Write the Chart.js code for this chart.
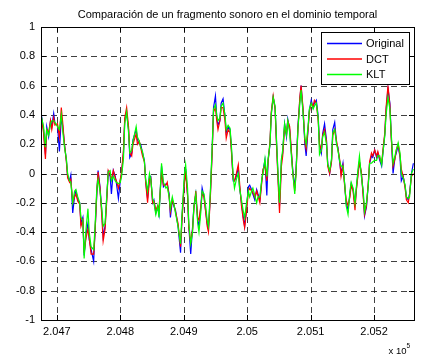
<!DOCTYPE html>
<html>
<head>
<meta charset="utf-8">
<script src="https://cdn.jsdelivr.net/npm/chart.js@4.4.0/dist/chart.umd.min.js"></script>
<style>
  html, body { margin: 0; padding: 0; background: #fff; }
  #caja { width: 422px; height: 354px; }
</style>
</head>
<body>
<div id="caja"><canvas id="grafico" width="422" height="354"></canvas></div>
<script>
// Muestras (indice de muestra, eje x)
const muestras = [
  204675,204679,204682,204684,204687,204690,204692,204695,204697,204701,
  204704,204707,204709,204712,204715,204717,204720,204722,204725,204728,
  204730,204733,204736,204738,204741,204743,204746,204749,204751,204754,
  204758,204760,204763,204765,204768,204771,204773,204776,204779,204781,
  204784,204786,204789,204792,204794,204797,204800,204802,204805,204807,
  204810,204813,204815,204818,204820,204825,204827,204830,204832,204835,
  204838,204840,204843,204846,204848,204851,204853,204856,204859,204861,
  204865,204868,204872,204874,204877,204879,204882,204885,204887,204891,
  204895,204897,204901,204903,204906,204908,204911,204914,204916,204919,
  204922,204924,204927,204929,204932,204935,204937,204939,204942,204945,
  204947,204950,204952,204954,204957,204959,204962,204965,204967,204970,
  204973,204975,204978,204980,204983,204986,204988,204991,204994,204996,
  204999,205002,205004,205007,205009,205012,205015,205017,205020,205023,
  205025,205028,205031,205033,205036,205038,205041,205044,205046,205049,
  205051,205054,205056,205059,205062,205064,205067,205069,205072,205075,
  205077,205080,205083,205085,205088,205091,205093,205096,205098,205101,
  205104,205106,205109,205112,205114,205117,205119,205122,205125,205127,
  205130,205133,205135,205138,205141,205143,205146,205148,205151,205154,
  205156,205159,205162,205164,205167,205170,205172,205175,205177,205180,
  205183,205185,205188,205191,205193,205196,205198,205201,205204,205206,
  205209,205212,205214,205217,205219,205222,205225,205227,205230,205233,
  205235,205238,205241,205243,205246,205249,205251,205254,205256,205259,205262
];

const original = [
  0.42,0.30,0.13,0.32,0.25,0.36,0.32,0.41,0.34,0.33,
  0.15,0.38,0.33,0.20,0.09,-0.02,-0.05,-0.01,-0.27,-0.15,
  -0.12,-0.18,-0.20,-0.34,-0.30,-0.56,-0.41,-0.34,-0.45,-0.52,
  -0.60,-0.41,-0.14,0.02,-0.09,-0.27,-0.43,-0.36,-0.14,0.01,
  -0.02,-0.14,0.02,-0.02,-0.07,-0.17,-0.05,0.00,0.14,0.36,
  0.41,0.30,0.11,0.14,0.23,0.30,0.23,0.20,0.20,0.14,
  0.09,-0.05,-0.17,-0.02,-0.02,-0.20,-0.18,-0.27,-0.23,-0.28,
  0.05,-0.09,-0.07,-0.07,-0.14,-0.30,-0.18,-0.23,-0.25,-0.36,
  -0.54,-0.32,-0.05,0.03,-0.14,-0.36,-0.55,-0.36,-0.23,-0.14,
  -0.32,-0.36,-0.23,-0.10,-0.16,-0.27,-0.34,-0.38,-0.14,0.18,
  0.45,0.53,0.39,0.33,0.36,0.48,0.51,0.39,0.28,0.32,
  0.30,0.18,-0.05,-0.05,-0.02,0.04,-0.09,-0.20,-0.30,-0.36,
  -0.23,-0.09,-0.08,-0.11,-0.14,-0.18,-0.11,-0.14,-0.18,-0.05,
  0.02,0.09,-0.15,0.09,0.20,0.41,0.52,0.45,0.24,-0.05,
  -0.22,0.09,0.14,0.34,0.25,0.37,0.30,0.18,0.02,-0.10,
  0.02,0.32,0.50,0.60,0.43,0.20,0.12,0.30,0.43,0.50,
  0.45,0.48,0.50,0.39,0.20,0.14,0.27,0.34,0.23,0.07,
  0.00,0.09,0.30,0.35,0.20,0.18,0.07,0.00,0.07,-0.09,
  -0.20,-0.25,-0.14,-0.07,-0.11,-0.22,-0.11,0.02,0.08,0.00,
  -0.14,-0.29,-0.23,-0.07,0.07,0.12,0.11,0.16,0.11,0.14,
  0.09,0.05,0.14,0.27,0.43,0.58,0.48,0.27,0.00,0.11,
  0.14,0.19,0.11,-0.05,-0.02,-0.09,-0.16,-0.18,-0.14,0.00,0.07
];

const dct = [
  0.40,0.28,0.10,0.30,0.28,0.36,0.30,0.38,0.33,0.34,
  0.25,0.45,0.36,0.20,0.08,-0.03,-0.06,-0.04,-0.20,-0.16,
  -0.14,-0.19,-0.21,-0.36,-0.32,-0.54,-0.44,-0.38,-0.44,-0.55,
  -0.55,-0.42,-0.12,0.01,-0.10,-0.30,-0.46,-0.38,-0.16,0.02,
  -0.01,-0.04,0.02,-0.03,-0.05,-0.10,-0.04,0.01,0.16,0.38,
  0.45,0.32,0.14,0.12,0.20,0.27,0.20,0.22,0.18,0.12,
  0.08,-0.06,-0.20,-0.04,-0.03,-0.20,-0.19,-0.25,-0.22,-0.24,
  0.00,-0.08,-0.08,-0.06,-0.16,-0.26,-0.18,-0.22,-0.26,-0.34,
  -0.50,-0.34,-0.06,0.00,-0.15,-0.37,-0.47,-0.38,-0.24,-0.12,
  -0.30,-0.32,-0.22,-0.14,-0.16,-0.28,-0.36,-0.40,-0.16,0.16,
  0.42,0.45,0.36,0.30,0.36,0.45,0.45,0.36,0.24,0.30,
  0.28,0.16,-0.04,-0.05,0.00,0.06,-0.06,-0.22,-0.32,-0.37,
  -0.26,-0.12,-0.10,-0.12,-0.13,-0.16,-0.12,-0.15,-0.20,-0.06,
  0.03,0.05,-0.05,0.08,0.22,0.42,0.53,0.44,0.22,-0.08,
  -0.27,0.05,0.12,0.32,0.27,0.36,0.32,0.20,0.00,-0.12,
  0.00,0.30,0.52,0.60,0.45,0.22,0.17,0.30,0.42,0.48,
  0.46,0.50,0.48,0.36,0.20,0.16,0.26,0.30,0.22,0.05,
  0.00,0.08,0.26,0.30,0.22,0.17,0.09,-0.02,0.05,-0.10,
  -0.18,-0.22,-0.16,-0.08,-0.12,-0.25,-0.12,0.00,0.08,0.01,
  -0.16,-0.28,-0.22,-0.06,0.08,0.14,0.12,0.16,0.12,0.15,
  0.10,0.07,0.16,0.28,0.45,0.60,0.46,0.25,0.05,0.10,
  0.16,0.20,0.12,0.03,-0.02,-0.10,-0.18,-0.20,-0.14,-0.02,0.00
];

const klt = [
  0.40,0.32,0.18,0.30,0.26,0.34,0.36,0.36,0.35,0.32,
  0.30,0.40,0.30,0.18,0.10,0.00,-0.05,-0.06,-0.20,-0.12,
  -0.11,-0.16,-0.20,-0.30,-0.32,-0.58,-0.38,-0.24,-0.40,-0.50,
  -0.52,-0.38,-0.10,-0.04,-0.12,-0.25,-0.36,-0.34,-0.13,0.01,
  0.02,-0.05,-0.02,-0.05,-0.06,-0.07,-0.06,-0.02,0.10,0.34,
  0.42,0.28,0.14,0.16,0.22,0.32,0.25,0.22,0.18,0.15,
  0.08,-0.04,-0.12,0.00,-0.04,-0.17,-0.20,-0.28,-0.22,-0.30,
  0.07,-0.06,-0.10,-0.09,-0.16,-0.24,-0.16,-0.22,-0.27,-0.36,
  -0.48,-0.30,-0.01,0.06,-0.10,-0.34,-0.48,-0.40,-0.22,-0.14,
  -0.34,-0.40,-0.26,-0.12,-0.14,-0.24,-0.32,-0.36,-0.12,0.20,
  0.44,0.47,0.40,0.36,0.38,0.46,0.48,0.40,0.30,0.33,
  0.31,0.20,-0.02,-0.10,-0.04,0.00,-0.10,-0.18,-0.26,-0.30,
  -0.20,-0.12,-0.16,-0.12,-0.10,-0.15,-0.20,-0.16,-0.16,-0.04,
  0.00,0.10,-0.02,0.10,0.20,0.40,0.52,0.46,0.26,-0.04,
  -0.20,0.10,0.16,0.34,0.26,0.36,0.28,0.16,0.00,-0.14,
  0.00,0.30,0.48,0.57,0.42,0.24,0.20,0.32,0.44,0.48,
  0.44,0.46,0.48,0.38,0.13,0.16,0.25,0.28,0.20,0.06,
  0.02,0.10,0.28,0.30,0.20,0.16,0.08,0.05,0.05,-0.08,
  -0.22,-0.28,-0.12,-0.06,-0.10,-0.20,-0.10,0.04,0.12,-0.02,
  -0.12,-0.26,-0.20,-0.08,0.07,0.07,0.08,0.09,0.09,0.12,
  0.12,0.06,0.14,0.26,0.40,0.52,0.44,0.28,0.07,0.12,
  0.16,0.21,0.14,0.00,-0.03,-0.08,-0.16,-0.17,-0.16,0.00,0.03
];

const titulo = 'Comparación de un fragmento sonoro en el dominio temporal';
const fuente = '"Liberation Sans", Arial, Helvetica, sans-serif';

function serie(valores) {
  return valores.map((v, i) => ({ x: muestras[i], y: v }));
}

// ejes estilo matlab: rejilla discontinua, marco, marcas hacia dentro, leyenda, titulo
const estiloMatlab = {
  id: 'estiloMatlab',
  beforeDatasetsDraw(chart) {
    const { ctx, chartArea: a, scales: { x, y } } = chart;
    ctx.save();
    ctx.strokeStyle = 'rgba(0,0,0,0.75)';
    ctx.lineWidth = 1;
    ctx.setLineDash([6, 4]);
    ctx.beginPath();
    x.ticks.forEach(t => {
      const px = Math.round(x.getPixelForValue(t.value)) + 0.5;
      ctx.moveTo(px, a.top); ctx.lineTo(px, a.bottom);
    });
    y.ticks.forEach(t => {
      if (t.value <= -0.99 || t.value >= 0.99) return;
      const py = Math.round(y.getPixelForValue(t.value)) + 0.5;
      ctx.moveTo(a.left, py); ctx.lineTo(a.right, py);
    });
    ctx.stroke();
    ctx.restore();
  },
  afterDatasetsDraw(chart) {
    const { ctx, chartArea: a, scales: { x, y } } = chart;
    const largo = 5;
    ctx.save();
    ctx.strokeStyle = '#000';
    ctx.lineWidth = 1;
    ctx.strokeRect(a.left + 0.5, a.top + 0.5, a.width, a.height);
    ctx.beginPath();
    x.ticks.forEach(t => {
      const px = Math.round(x.getPixelForValue(t.value)) + 0.5;
      ctx.moveTo(px, a.bottom); ctx.lineTo(px, a.bottom - largo);
      ctx.moveTo(px, a.top); ctx.lineTo(px, a.top + largo);
    });
    y.ticks.forEach(t => {
      const py = Math.round(y.getPixelForValue(t.value)) + 0.5;
      ctx.moveTo(a.left, py); ctx.lineTo(a.left + largo, py);
      ctx.moveTo(a.right, py); ctx.lineTo(a.right - largo, py);
    });
    ctx.stroke();
    ctx.restore();
  },
  afterDraw(chart) {
    const { ctx, chartArea: a } = chart;
    ctx.save();
    ctx.fillStyle = '#000';
    ctx.font = '11px ' + fuente;
    ctx.textAlign = 'center';
    ctx.textBaseline = 'alphabetic';
    ctx.fillText(titulo, (a.left + a.right) / 2, 18);

    // x 10^5
    ctx.textAlign = 'left';
    ctx.font = '9.5px ' + fuente;
    ctx.fillText('x 10', 388.5, 353.5);
    ctx.font = '6.5px ' + fuente;
    ctx.fillText('5', 406.5, 347.5);

    // leyenda
    const bx = 321, by = 32, bw = 88, bh = 52;
    ctx.fillStyle = '#fff';
    ctx.fillRect(bx, by, bw, bh);
    ctx.strokeStyle = '#000';
    ctx.lineWidth = 1;
    ctx.strokeRect(bx + 0.5, by + 0.5, bw, bh);
    ctx.font = '11px ' + fuente;
    ctx.textBaseline = 'middle';
    chart.data.datasets.forEach((ds, i) => {
      const ly = 43.5 + i * 15.5;
      ctx.strokeStyle = ds.borderColor;
      ctx.lineWidth = 1.3;
      ctx.beginPath();
      ctx.moveTo(327, ly); ctx.lineTo(362, ly);
      ctx.stroke();
      ctx.fillStyle = '#000';
      ctx.fillText(ds.label, 366, ly + 0.5);
    });
    ctx.restore();
  }
};

const ctx = document.getElementById('grafico').getContext('2d');
new Chart(ctx, {
  type: 'line',
  data: {
    datasets: [
      { label: 'Original', data: serie(original), borderColor: '#0000ff', order: 2 },
      { label: 'DCT', data: serie(dct), borderColor: '#ff0000', order: 1 },
      { label: 'KLT', data: serie(klt), borderColor: '#00ff00', order: 0 }
    ]
  },
  options: {
    responsive: false,
    animation: false,
    elements: {
      point: { radius: 0 },
      line: { borderWidth: 1.2, tension: 0, fill: false }
    },
    layout: { padding: { top: 27, right: 8, left: 0, bottom: 0 } },
    plugins: {
      legend: { display: false },
      tooltip: { enabled: false },
      title: { display: false }
    },
    scales: {
      x: {
        type: 'linear',
        min: 204675,
        max: 205263,
        afterFit: s => { s.height = 34; },
        grid: { display: false, drawTicks: false },
        border: { display: false },
        ticks: {
          stepSize: 100,
          includeBounds: false,
          autoSkip: false,
          maxRotation: 0,
          padding: 5,
          color: '#000',
          font: { family: fuente, size: 11 },
          callback: v => String(parseFloat((v / 1e5).toFixed(3)))
        }
      },
      y: {
        min: -1,
        max: 1,
        afterFit: s => { s.width = 41; },
        grid: { display: false, drawTicks: false },
        border: { display: false },
        ticks: {
          stepSize: 0.2,
          padding: 6,
          color: '#000',
          font: { family: fuente, size: 11 },
          callback: v => String(parseFloat(v.toFixed(1)))
        }
      }
    }
  },
  plugins: [estiloMatlab]
});
</script>
</body>
</html>
